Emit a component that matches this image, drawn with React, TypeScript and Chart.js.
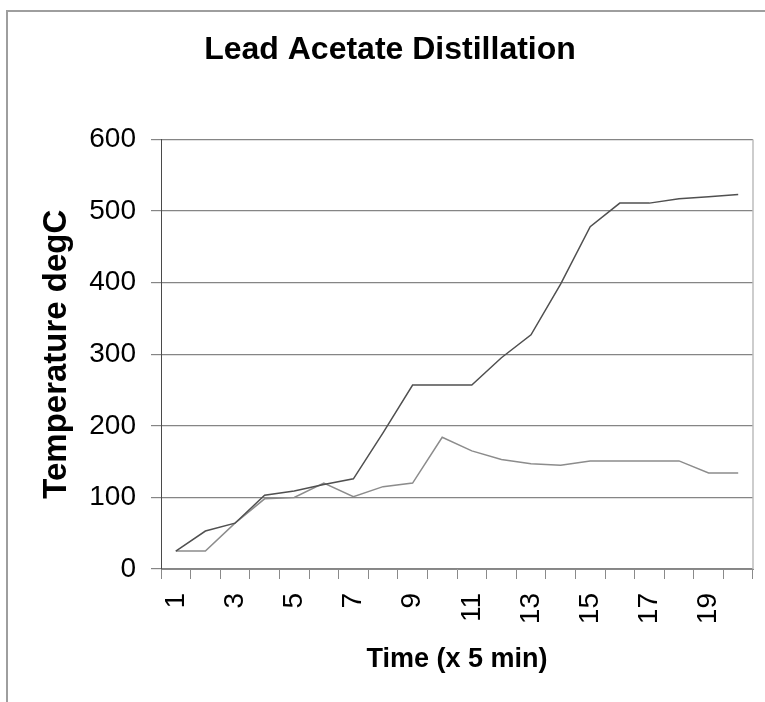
import React, { useEffect, useRef } from "react";
import { Chart, registerables } from "chart.js";

Chart.register(...registerables);

const categories = ["1","2","3","4","5","6","7","8","9","10","11","12","13","14","15","16","17","18","19","20"];
const seriesUpper = [25, 53, 64, 103, 109, 118, 126, 190, 257, 257, 257, 295, 327, 398, 478, 511, 511, 517, 520, 523];
const seriesLower = [25, 25, 64, 98, 100, 120, 101, 115, 120, 184, 165, 153, 147, 145, 151, 151, 151, 151, 134, 134];
const yTicks = [0, 100, 200, 300, 400, 500, 600];

const FONT = "'Liberation Sans', Arial, sans-serif";

const decorations = {
  id: "decorations",
  beforeDraw(chart: any) {
    const { ctx, width, height } = chart;
    ctx.save();
    ctx.fillStyle = "#fff";
    ctx.fillRect(0, 0, width, height);
    ctx.strokeStyle = "#9e9e9e";
    ctx.lineWidth = 2;
    ctx.beginPath();
    ctx.moveTo(7, height + 5);
    ctx.lineTo(7, 11);
    ctx.lineTo(width + 5, 11);
    ctx.stroke();
    ctx.restore();
  },
  beforeDatasetsDraw(chart: any) {
    const { ctx, chartArea } = chart;
    ctx.save();
    ctx.strokeStyle = "#bdbdbd";
    ctx.lineWidth = 1.5;
    ctx.beginPath();
    ctx.moveTo(chartArea.right, chartArea.top);
    ctx.lineTo(chartArea.right, chartArea.bottom);
    ctx.stroke();
    ctx.restore();
  },
};

export default function App() {
  const ref = useRef<HTMLCanvasElement | null>(null);

  useEffect(() => {
    if (!ref.current) return;
    const chart = new Chart(ref.current, {
      type: "line",
      data: {
        labels: categories,
        datasets: [
          {
            label: "Upper",
            data: seriesUpper,
            borderColor: "#505050",
            borderWidth: 1.5,
            pointRadius: 0,
            tension: 0,
            fill: false,
          },
          {
            label: "Lower",
            data: seriesLower,
            borderColor: "#8c8c8c",
            borderWidth: 1.5,
            pointRadius: 0,
            tension: 0,
            fill: false,
          },
        ],
      },
      options: {
        responsive: false,
        animation: false,
        devicePixelRatio: 1,
        layout: { padding: { left: 27, right: 12, top: 0, bottom: 0 } },
        plugins: {
          legend: { display: false },
          tooltip: { enabled: false },
          title: {
            display: true,
            text: "Lead Acetate Distillation",
            color: "#000",
            font: { family: FONT, size: 32, weight: "bold", lineHeight: 1.2 },
            padding: { top: 31, bottom: 70 },
          },
        },
        scales: {
          x: {
            type: "category",
            offset: true,
            grid: {
              offset: true,
              drawOnChartArea: false,
              drawTicks: true,
              tickLength: 10,
              color: "#8a8a8a",
            },
            border: { display: true, color: "#8a8a8a", width: 1 },
            ticks: {
              autoSkip: false,
              minRotation: 90,
              maxRotation: 90,
              padding: 14,
              color: "#000",
              font: { family: FONT, size: 28 },
              callback: function (this: any, value: any, index: number) {
                return index % 2 === 0 ? categories[index] : "";
              },
            },
            title: {
              display: true,
              text: "Time (x 5 min)",
              color: "#000",
              font: { family: FONT, size: 27, weight: "bold", lineHeight: 1.2 },
              padding: { top: 0, bottom: 26 },
            },
            afterFit(scale: any) {
              scale.height = 133;
              scale.paddingLeft = 0;
              scale.paddingRight = 0;
            },
          },
          y: {
            min: 0,
            max: 600,
            afterBuildTicks(scale: any) {
              scale.ticks = yTicks.map((v) => ({ value: v }));
            },
            grid: {
              color: "#858585",
              lineWidth: 1.2,
              drawTicks: true,
              tickLength: 10,
            },
            border: { display: true, color: "#4a4a4a", width: 1 },
            ticks: {
              padding: 15,
              color: "#000",
              font: { family: FONT, size: 28 },
            },
            title: {
              display: true,
              text: "Temperature degC",
              color: "#000",
              font: { family: FONT, size: 33, weight: "bold", lineHeight: 1.2 },
              padding: { top: 10, bottom: 0 },
            },
            afterFit(scale: any) {
              scale.width = 134;
              scale.paddingTop = 0;
              scale.paddingBottom = 0;
            },
          },
        },
      },
      plugins: [decorations],
    } as any);
    return () => chart.destroy();
  }, []);

  return (
    <div
      style={{
        position: "fixed",
        left: 0,
        top: 0,
        width: 765,
        height: 702,
        background: "#fff",
        overflow: "hidden",
      }}
    >
      <canvas
        ref={ref}
        width={765}
        height={702}
        style={{ position: "absolute", left: 0, top: 0, width: 765, height: 702 }}
      />
    </div>
  );
}
